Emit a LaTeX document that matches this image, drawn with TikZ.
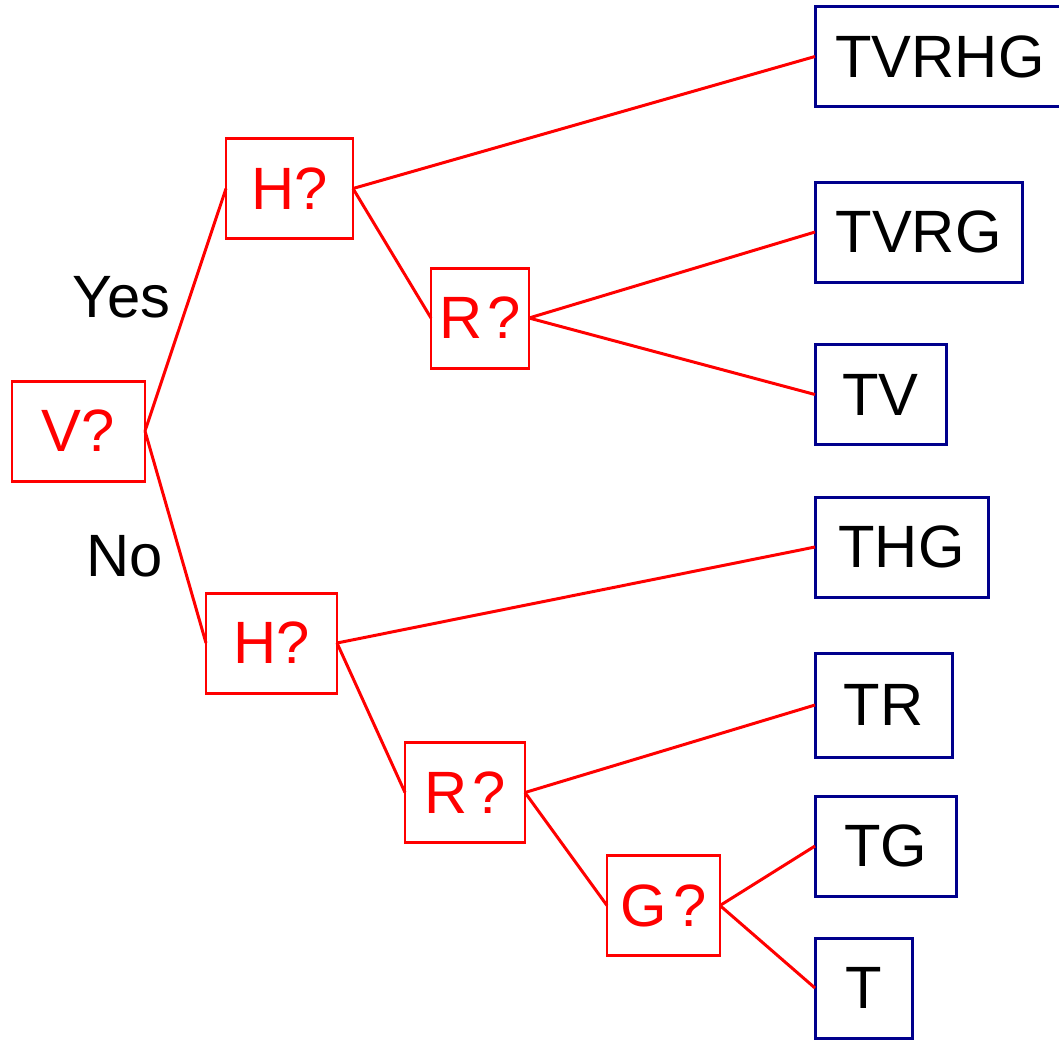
\documentclass[tikz,border=0pt]{standalone}
\usepackage{fontspec}
\setmainfont{Liberation Sans}
\definecolor{qred}{RGB}{255,0,0}
\definecolor{leafblue}{RGB}{0,0,140}
\begin{document}
\begin{tikzpicture}[
        font=\fontsize{17}{20}\selectfont,
        qbox/.style={draw=qred, text=qred, line width=0.85pt, inner sep=0pt, outer sep=0pt, minimum height=1cm},
        leaf/.style={draw=leafblue, text=black, line width=0.85pt, inner sep=0pt, outer sep=0pt, minimum height=1cm, anchor=west},
        branch/.style={draw=qred, line width=0.85pt}
    ]
        \useasboundingbox (0,0) rectangle (10.59,-10.41);

        % Draw the questions
        \node[qbox, minimum width=1.33cm] (v) at (0.785,-4.31) {V?};
        \node[qbox, minimum width=1.27cm] (hy) at (2.895,-1.885) {H?};
        \node[qbox, minimum width=0.98cm] (ry) at (4.80,-3.18) {R\kern0.08em?};
        \node[qbox, minimum width=1.31cm] (hn) at (2.715,-6.43) {H?};
        \node[qbox, minimum width=1.20cm] (rn) at (4.65,-7.925) {R\kern0.08em?};
        \node[qbox, minimum width=1.13cm] (gn) at (6.635,-9.055) {G\kern0.1em?};

        % Draw the outcomes
        \node[leaf, minimum width=2.50cm] (tvrhg) at (8.15,-0.565) {TVRHG};
        \node[leaf, minimum width=2.07cm] (tvrg) at (8.15,-2.32) {TVRG};
        \node[leaf, minimum width=1.31cm] (tv) at (8.15,-3.945) {TV};
        \node[leaf, minimum width=1.73cm] (thg) at (8.15,-5.47) {THG};
        \node[leaf, minimum width=1.37cm, minimum height=1.04cm] (tr) at (8.15,-7.05) {TR};
        \node[leaf, minimum width=1.41cm] (tg) at (8.15,-8.46) {TG};
        \node[leaf, minimum width=0.97cm] (t) at (8.15,-9.88) {T};

        % Label the answers
        \node (yes) at (1.215,-2.97) {Yes};
        \node (no) at (1.245,-5.565) {No};

        % Draw the branches
        \draw[branch] (v.east) -- (hy.west);
        \draw[branch] (v.east) -- (hn.west);
        \draw[branch] (hy.east) -- (tvrhg.west);
        \draw[branch] (hy.east) -- (ry.west);
        \draw[branch] (ry.east) -- (tvrg.west);
        \draw[branch] (ry.east) -- (tv.west);
        \draw[branch] (hn.east) -- (thg.west);
        \draw[branch] (hn.east) -- (rn.west);
        \draw[branch] (rn.east) -- (tr.west);
        \draw[branch] (rn.east) -- (gn.west);
        \draw[branch] (gn.east) -- (tg.west);
        \draw[branch] (gn.east) -- (t.west);

\end{tikzpicture}
\end{document}
